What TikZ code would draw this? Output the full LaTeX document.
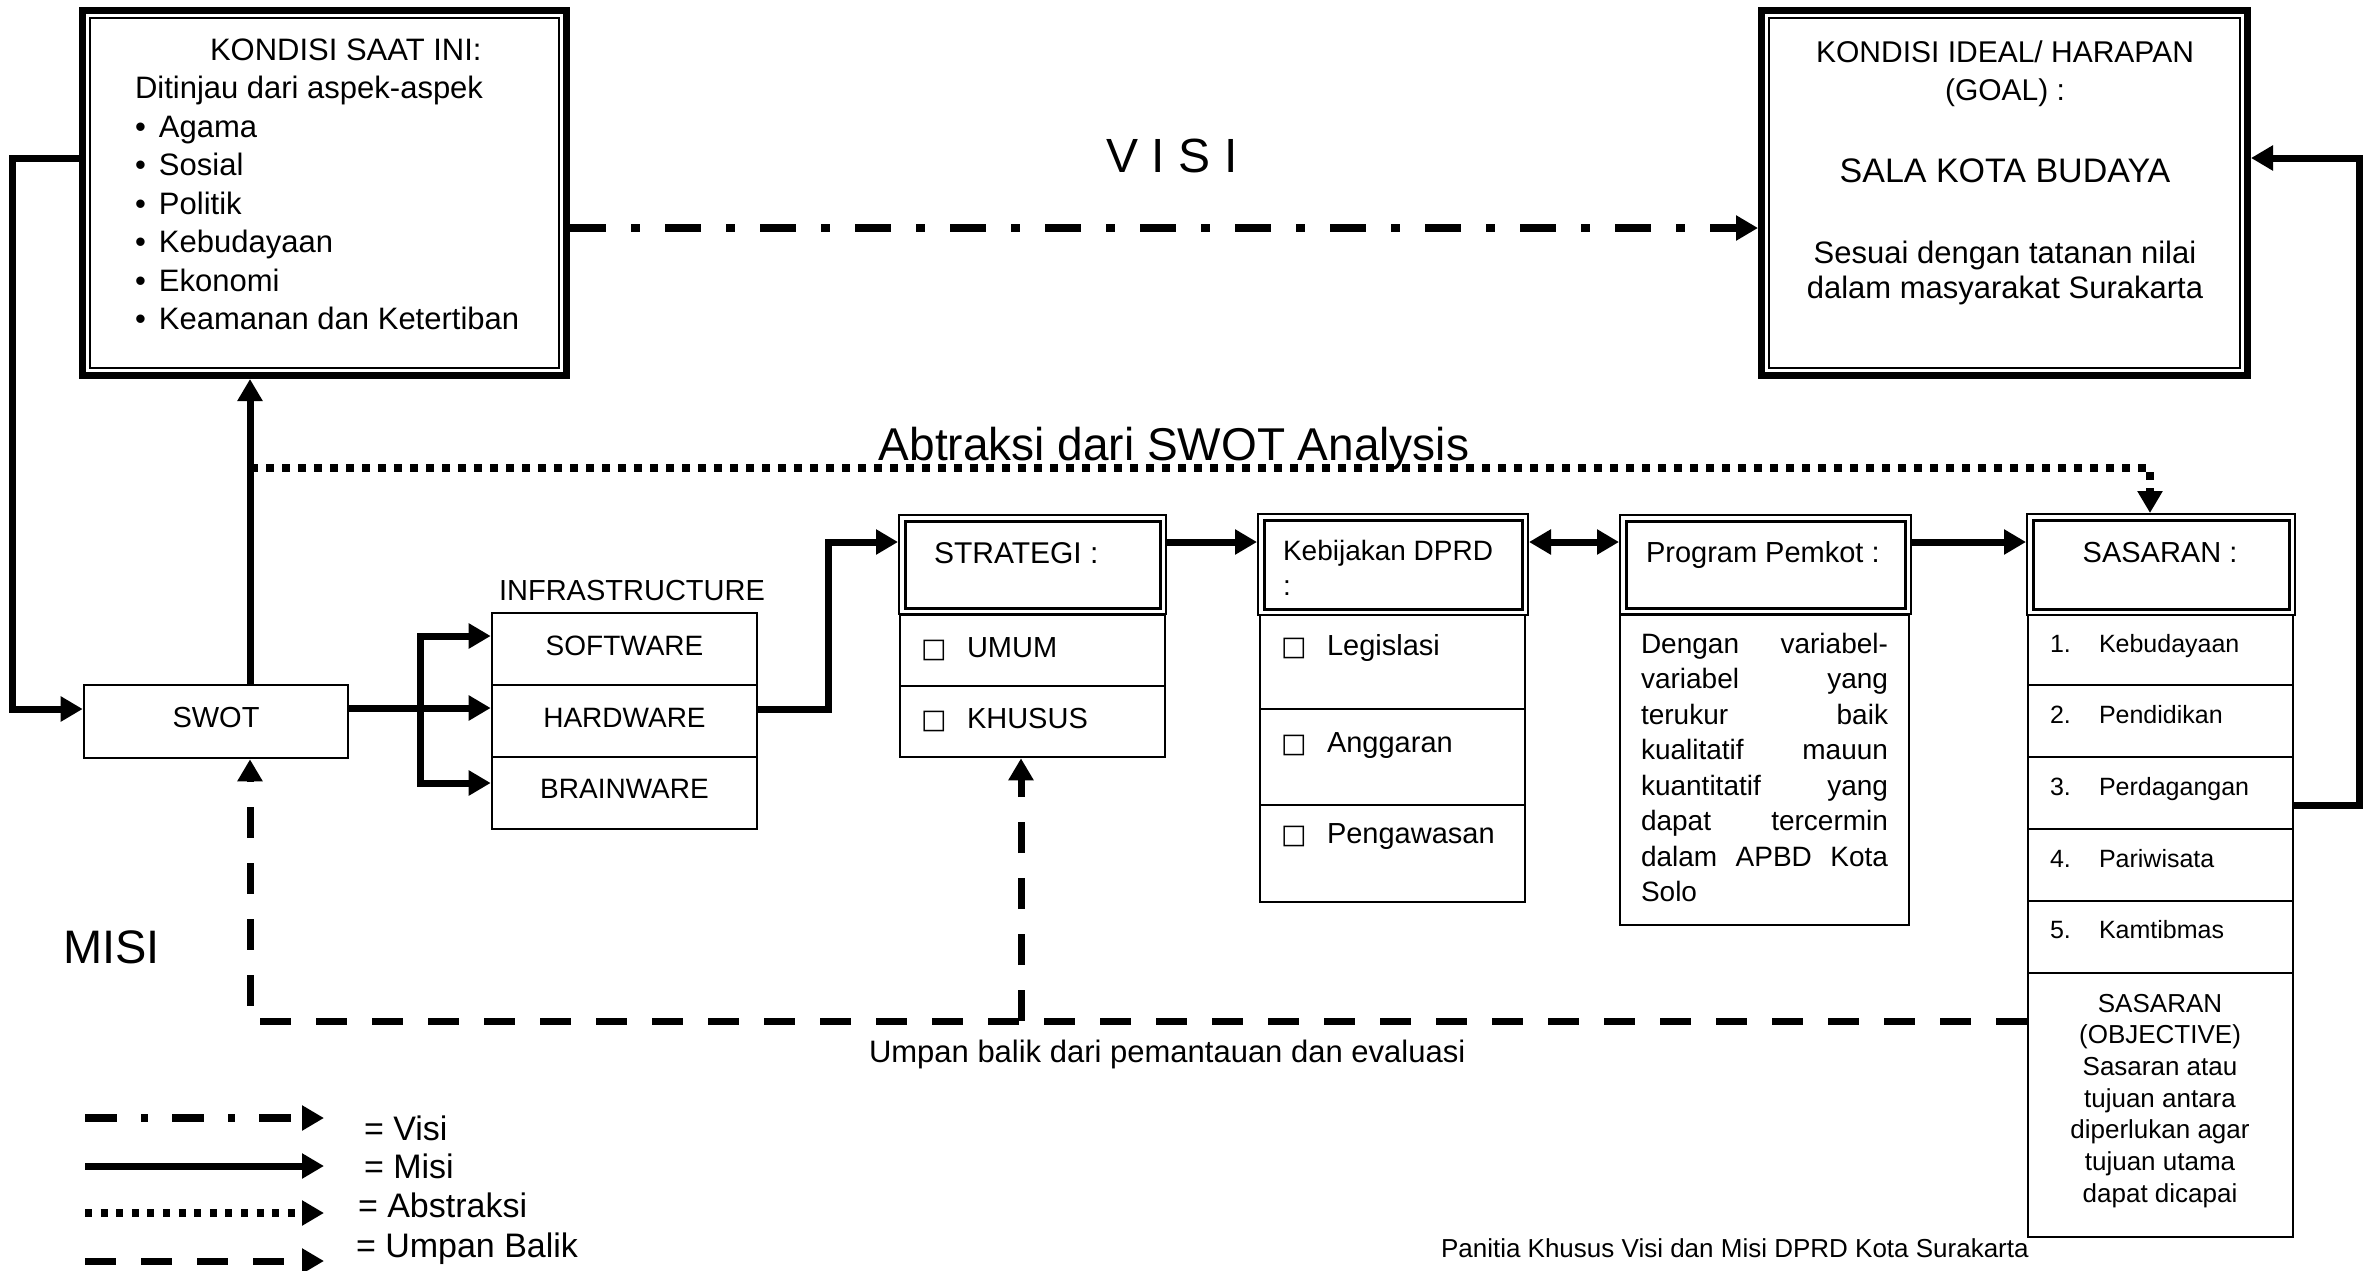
\documentclass[tikz,border=0pt]{standalone}
\usepackage{fontspec}
\setmainfont{Liberation Sans}
\newfontfamily\symfont{DejaVu Sans}
\usetikzlibrary{arrows.meta,fit}
\newcommand{\fs}[2]{\fontsize{#1}{#2}\selectfont}
\newcommand{\bul}{\makebox[12pt][l]{\textbullet}}
\newcommand{\chk}{\makebox[23pt][l]{{\symfont\fs{13.5}{13.5}□}}}
\newcommand{\jl}[1]{\hbox to\linewidth{#1}}
\begin{document}
\begin{tikzpicture}[x=0.5pt,y=-0.5pt,
  txt/.style={inner sep=0pt, outer sep=0pt},
  bigframe/.style={draw, line width=3.5pt, inner sep=0pt},
  hdr/.style={draw, line width=1pt, inner sep=0pt},
  cell/.style={draw, line width=1.3pt, inner sep=0pt},
  tip/.style={-{Triangle[length=11pt,width=12pt]}},
  misi/.style={line width=3.5pt, tip},
  visi/.style={line width=4pt, dash pattern=on 18pt off 12.5pt on 4.5pt off 12.5pt, tip},
  abst/.style={line width=4pt, dash pattern=on 4pt off 4pt, tip},
  fb/.style={line width=3.5pt, dash pattern=on 15.5pt off 12.5pt, tip},
]
\useasboundingbox (0,0) rectangle (2368,1270);

% ---- big boxes
\node[bigframe, fit={(82.5,10.5) (566.5,375.5)}] (L) {};
\draw[line width=1pt] ([shift={(11,11)}]L.north west) rectangle ([shift={(-11,-11)}]L.south east);
\node[bigframe, fit={(1761.5,10.5) (2247.5,375.5)}] (R) {};
\draw[line width=1pt] ([shift={(11,11)}]R.north west) rectangle ([shift={(-11,-11)}]R.south east);

\node[txt, anchor=base west] (Lt) at (135,60) {\parbox[t]{200pt}{\fs{15.5}{19.25}%
\hspace*{37.5pt}KONDISI SAAT INI:\\
Ditinjau dari aspek-aspek\\
\bul Agama\\
\bul Sosial\\
\bul Politik\\
\bul Kebudayaan\\
\bul Ekonomi\\
\bul Keamanan dan Ketertiban}};

\node[txt, anchor=base] (Rt1) at (2005,62) {\parbox[t]{230pt}{\centering\fs{15}{19}KONDISI IDEAL/ HARAPAN\\(GOAL) :}};
\node[txt, anchor=base] (Rt2) at (2005,182) {\fs{17}{20}SALA KOTA BUDAYA};
\node[txt, anchor=base] (Rt3) at (2005,263) {\parbox[t]{230pt}{\centering\fs{15.5}{17.5}Sesuai dengan tatanan nilai\\dalam masyarakat Surakarta}};

\node[txt, anchor=base] (vt) at (1172,172) {\fs{24}{28}V I S I};
\node[txt, anchor=base] (abt) at (1174,460) {\fs{23}{27}Abtraksi dari SWOT Analysis};

% ---- SWOT and infrastructure
\node[cell, fit={(84,685) (348,758)}] (S) {};
\node[txt, anchor=base] (St) at (216,727) {\fs{14.5}{17}SWOT};
\node[txt, anchor=base] (it) at (632,600) {\fs{14.5}{17}INFRASTRUCTURE};
\node[cell, fit={(492,613) (757,685)}] (sw) {};
\node[cell, fit={(492,685) (757,757)}] (hw) {};
\node[cell, fit={(492,757) (757,829)}] (bw) {};
\node[txt, anchor=base] (swt) at (624.5,655) {\fs{14}{17}SOFTWARE};
\node[txt, anchor=base] (hwt) at (624.5,727) {\fs{14}{17}HARDWARE};
\node[txt, anchor=base] (bwt) at (624.5,798) {\fs{14}{17}BRAINWARE};

% ---- STRATEGI
\node[hdr, fit={(899,515) (1166,614)}] (ST) {};
\draw[line width=1.5pt] ([shift={(7,7)}]ST.north west) rectangle ([shift={(-7,-7)}]ST.south east);
\node[txt, anchor=base west] (STt) at (934,563) {\fs{15}{18}STRATEGI :};
\node[cell, fit={(900,615) (1165,686)}] (su) {};
\node[cell, fit={(900,686) (1165,757)}] (sk) {};
\node[txt, anchor=base west] (sut) at (921,657) {\fs{14.5}{17}\chk UMUM};
\node[txt, anchor=base west] (skt) at (921,728) {\fs{14.5}{17}\chk KHUSUS};

% ---- Kebijakan DPRD
\node[hdr, fit={(1258,514) (1528,615)}] (KB) {};
\draw[line width=1.5pt] ([shift={(7,7)}]KB.north west) rectangle ([shift={(-7,-7)}]KB.south east);
\node[txt, anchor=base west] (KBt) at (1283,560) {\parbox[t]{130pt}{\fs{14}{17.5}Kebijakan DPRD\\:}};
\node[cell, fit={(1260,615) (1525,709)}] (k1) {};
\node[cell, fit={(1260,709) (1525,805)}] (k2) {};
\node[cell, fit={(1260,805) (1525,902)}] (k3) {};
\node[txt, anchor=base west] (k1t) at (1281,655) {\fs{14.5}{17}\chk Legislasi};
\node[txt, anchor=base west] (k2t) at (1281,752) {\fs{14.5}{17}\chk Anggaran};
\node[txt, anchor=base west] (k3t) at (1281,843) {\fs{14.5}{17}\chk Pengawasan};

% ---- Program Pemkot
\node[hdr, fit={(1620,515) (1911,614)}] (PG) {};
\draw[line width=1.5pt] ([shift={(7,7)}]PG.north west) rectangle ([shift={(-7,-7)}]PG.south east);
\node[txt, anchor=base west] (PGt) at (1646,562) {\fs{14.5}{17}Program Pemkot :};
\node[cell, fit={(1620,615) (1909,925)}] (pb) {};
\node[txt, anchor=base west] (pbt) at (1641,653) {\parbox[t]{123.5pt}{\fs{14}{17.75}%
\jl{Dengan\hfill variabel-}%
\jl{variabel\hfill yang}%
\jl{terukur\hfill baik}%
\jl{kualitatif\hfill mauun}%
\jl{kuantitatif\hfill yang}%
\jl{dapat\hfill tercermin}%
\jl{dalam\hfill APBD\hfill Kota}%
\jl{Solo\hfill}}};

% ---- SASARAN
\node[hdr, fit={(2027,514) (2295,615)}] (SA) {};
\draw[line width=1.5pt] ([shift={(7,7)}]SA.north west) rectangle ([shift={(-7,-7)}]SA.south east);
\node[txt, anchor=base] (SAt) at (2160,562) {\fs{14.5}{17}SASARAN :};
\node[cell, fit={(2028,615) (2293,685)}] (s1) {};
\node[cell, fit={(2028,685) (2293,757)}] (s2) {};
\node[cell, fit={(2028,757) (2293,829)}] (s3) {};
\node[cell, fit={(2028,829) (2293,901)}] (s4) {};
\node[cell, fit={(2028,901) (2293,973)}] (s5) {};
\node[cell, fit={(2028,973) (2293,1237)}] (s6) {};
\node[txt, anchor=base west] (s1t) at (2050,652) {\fs{12.5}{15}\makebox[24.5pt][l]{1.}Kebudayaan};
\node[txt, anchor=base west] (s2t) at (2050,723) {\fs{12.5}{15}\makebox[24.5pt][l]{2.}Pendidikan};
\node[txt, anchor=base west] (s3t) at (2050,795) {\fs{12.5}{15}\makebox[24.5pt][l]{3.}Perdagangan};
\node[txt, anchor=base west] (s4t) at (2050,867) {\fs{12.5}{15}\makebox[24.5pt][l]{4.}Pariwisata};
\node[txt, anchor=base west] (s5t) at (2050,938) {\fs{12.5}{15}\makebox[24.5pt][l]{5.}Kamtibmas};
\node[txt, anchor=base] (s6t) at (2160,1012) {\parbox[t]{130pt}{\centering\fs{13}{15.85}SASARAN\\(OBJECTIVE)\\Sasaran atau\\tujuan antara\\diperlukan agar\\tujuan utama\\dapat dicapai}};

% ---- other labels
\node[txt, anchor=base west] (mt) at (63,963) {\fs{23.5}{27}MISI};
\node[txt, anchor=base west] (ubt) at (869,1062) {\fs{15.5}{18}Umpan balik dari pemantauan dan evaluasi};
\node[txt, anchor=base west] (pnt) at (1441,1257) {\fs{13}{15}Panitia Khusus Visi dan Misi DPRD Kota Surakarta};

% ---- helper coordinates
\coordinate (yV) at (0,228);
\coordinate (yLL) at (0,158);
\coordinate (xLL) at (12,0);
\coordinate (ySW) at (0,709);
\coordinate (xMS) at (250,0);
\coordinate (yAB) at (0,468);
\coordinate (xAB) at (2150,0);
\coordinate (yFK) at (0,708);
\coordinate (xFK) at (420,0);
\coordinate (ySWa) at (0,636);
\coordinate (yBWa) at (0,783);
\coordinate (xHS) at (828,0);
\coordinate (yTop) at (0,542);
\coordinate (yRL) at (0,805);
\coordinate (xRL) at (2359,0);
\coordinate (yFB) at (0,1021);
\coordinate (xFB) at (1021,0);

% ---- connectors
\draw[visi] (L.east |- yV) -- (R.west |- yV);
\draw[misi] (L.west |- yLL) -| (xLL |- ySW) -- (S.west |- ySW);
\draw[misi] (xMS |- S.north) -- (xMS |- L.south);
\draw[abst] (xMS |- yAB) -- (xAB |- yAB) -- (xAB |- SA.north);
\draw[misi] (S.east |- yFK) -- (hw.west |- yFK);
\draw[misi] (xFK |- yFK) |- (sw.west |- ySWa);
\draw[misi] (xFK |- yFK) |- (bw.west |- yBWa);
\draw[misi] (hw.east |- ySW) -| (xHS |- yTop) -- (ST.west |- yTop);
\draw[misi] (ST.east |- yTop) -- (KB.west |- yTop);
\draw[line width=3.5pt, {Triangle[length=11pt,width=12pt]}-{Triangle[length=11pt,width=12pt]}] (KB.east |- yTop) -- (PG.west |- yTop);
\draw[misi] (PG.east |- yTop) -- (SA.west |- yTop);
\draw[misi] (s3.east |- yRL) -| (xRL |- yLL) -- (R.east |- yLL);
\draw[fb] (s6.west |- yFB) -| (xMS |- S.south);
\draw[fb] (xFB |- yFB) -- (xFB |- sk.south);

% ---- legend
\coordinate (g1a) at (85,1118); \coordinate (g1b) at (324,1118);
\coordinate (g2a) at (85,1166); \coordinate (g2b) at (324,1166);
\coordinate (g3a) at (85,1213); \coordinate (g3b) at (324,1213);
\coordinate (g4a) at (85,1261); \coordinate (g4b) at (324,1261);
\draw[visi, dash pattern=on 16pt off 12pt on 3.5pt off 12pt] (g1a) -- (g1b);
\draw[misi] (g2a) -- (g2b);
\draw[abst, dash pattern=on 3.5pt off 4.3pt] (g3a) -- (g3b);
\draw[fb] (g4a) -- (g4b);
\node[txt, anchor=base west] (lg1) at (364,1140) {\fs{17}{20}= Visi};
\node[txt, anchor=base west] (lg2) at (364,1178) {\fs{17}{20}= Misi};
\node[txt, anchor=base west] (lg3) at (358,1217) {\fs{17}{20}= Abstraksi};
\node[txt, anchor=base west] (lg4) at (356,1257) {\fs{17}{20}= Umpan Balik};
\end{tikzpicture}
\end{document}
